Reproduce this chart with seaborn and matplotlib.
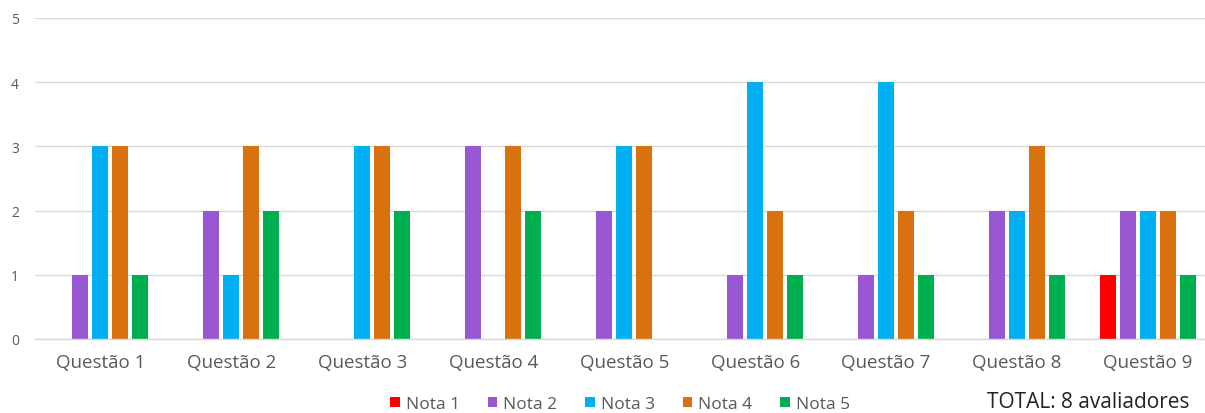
import matplotlib
matplotlib.use("Agg")
import matplotlib.pyplot as plt
import seaborn as sns
import pandas as pd
from matplotlib.patches import Patch

categories = ["Questão 1", "Questão 2", "Questão 3", "Questão 4", "Questão 5",
              "Questão 6", "Questão 7", "Questão 8", "Questão 9"]
series_names = ["Nota 1", "Nota 2", "Nota 3", "Nota 4", "Nota 5"]
nota1 = [0, 0, 0, 0, 0, 0, 0, 0, 1]
nota2 = [1, 2, 0, 3, 2, 1, 1, 2, 2]
nota3 = [3, 1, 3, 0, 3, 4, 4, 2, 2]
nota4 = [3, 3, 3, 3, 3, 2, 2, 3, 2]
nota5 = [1, 2, 2, 2, 0, 1, 1, 1, 1]
colors = ["#FF0000", "#9A57D3", "#00B0F0", "#D8710E", "#00B050"]
y_ticks = [0, 1, 2, 3, 4, 5]
note_text = "TOTAL: 8 avaliadores"

rows = []
for name, vals in zip(series_names, [nota1, nota2, nota3, nota4, nota5]):
    for c, v in zip(categories, vals):
        rows.append({"Questão": c, "Nota": name, "Valor": v})
df = pd.DataFrame(rows)

sns.set_theme(style="white")
plt.rcParams['font.family'] = ['Open Sans', 'DejaVu Sans']

W, H = 1205, 414
fig = plt.figure(figsize=(W / 100, H / 100), dpi=100)
left = 35 / W
right_px = 1213.5
ax = fig.add_axes([left, (H - 340) / H, (right_px - 35) / W, (340 - 19) / H])

sns.barplot(data=df, x="Questão", y="Valor", hue="Nota", hue_order=series_names,
            palette=colors, saturation=1, width=0.764, gap=0.2, linewidth=0,
            ax=ax, legend=False)

ax.set_xlim(-0.5, 8.5)
ax.set_ylim(0, 5)
ax.set_yticks(y_ticks)
ax.yaxis.grid(True, color="#D9D9D9", linewidth=1.0)
ax.set_axisbelow(True)
for s in ["top", "right", "left"]:
    ax.spines[s].set_visible(False)
ax.spines["bottom"].set_color("#D9D9D9")
ax.spines["bottom"].set_linewidth(1.0)
ax.tick_params(axis="y", length=0, labelsize=10, labelcolor="#595959", pad=11.5)
ax.tick_params(axis="x", length=0, labelsize=13.5, labelcolor="#595959", pad=10)
ax.set_xlabel("")
ax.set_ylabel("")

handles = [Patch(facecolor=c, edgecolor="none") for c in colors]
fig.legend(handles, series_names, loc="center", bbox_to_anchor=(620 / W, 1 - 405 / H),
           ncol=5, frameon=False, fontsize=12.5, handlelength=0.55, handleheight=0.55,
           handletextpad=0.35, columnspacing=1.6, labelcolor="#595959")
fig.text(1088 / W, 1 - 403 / H, note_text, ha="center", va="center",
         fontsize=15, color="#222222")

fig.savefig("out.png", dpi=100)
